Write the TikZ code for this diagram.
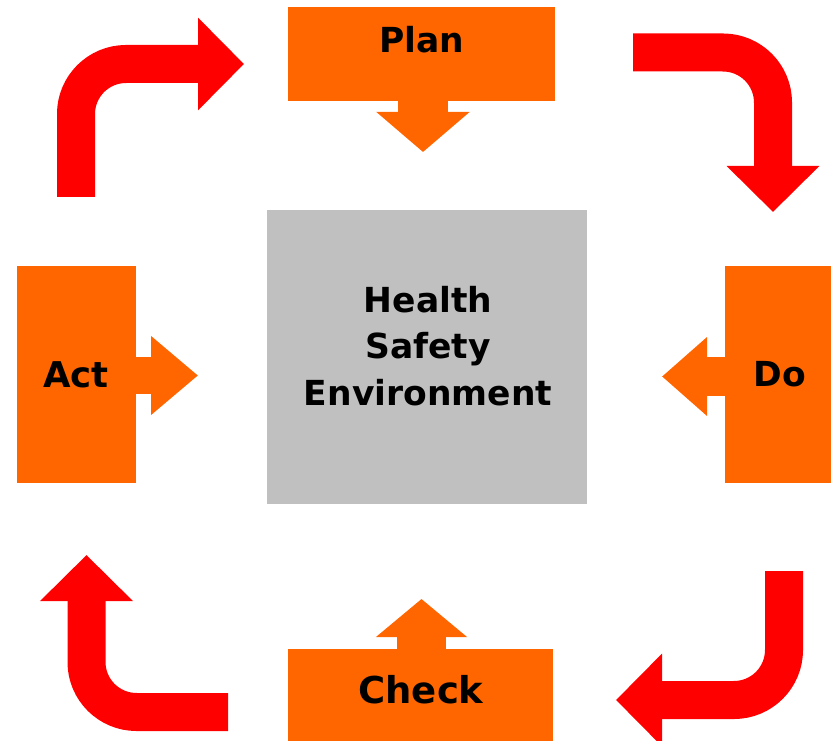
\documentclass[tikz,border=0pt]{standalone}
\usepackage{fontspec}
\setmainfont{DejaVu Sans}
\usetikzlibrary{arrows.meta}
\definecolor{stageorange}{HTML}{FF6600}
\definecolor{cyclered}{HTML}{FF0000}
\definecolor{coregray}{HTML}{C0C0C0}
\begin{document}
\begin{tikzpicture}[x=1pt,y=-1pt,
  stagebox/.style={fill=stageorange, draw=none, inner sep=0pt},
  corebox/.style={fill=coregray, draw=none, inner sep=0pt},
  lbl/.style={font=\fontsize{34.5}{40}\selectfont\bfseries, text=black, inner sep=0pt},
  cyclearrow/.style={draw=cyclered, line width=38pt, rounded corners=50pt,
    -{Triangle[length=46pt,width=90pt]}},
  feedarrow/.style={draw=stageorange}
]
\useasboundingbox (0,0) rectangle (831,741);
\fill[white] (0,0) rectangle (831,741);

% stage boxes
\node[stagebox, minimum width=267pt, minimum height=94pt] (plan) at (421.5,54) {};
\node[stagebox, minimum width=106pt, minimum height=217pt] (do) at (778,374.5) {};
\node[stagebox, minimum width=265pt, minimum height=92pt] (check) at (420.5,695) {};
\node[stagebox, minimum width=119pt, minimum height=217pt] (act) at (76.5,374.5) {};
\node[corebox, minimum width=320pt, minimum height=294pt] (hse) at (427,357) {};

% feed arrows toward the centre
\coordinate (planTip) at (423,152);
\coordinate (doTip) at (662,376.5);
\coordinate (checkTip) at (421.5,599);
\coordinate (actTip) at (198,375.5);
\draw[feedarrow, line width=50pt, -{Triangle[length=40pt,width=91pt]}] (planTip |- plan.center) -- (planTip);
\draw[feedarrow, line width=39pt, -{Triangle[length=45pt,width=76pt]}] (doTip -| do.center) -- (doTip);
\draw[feedarrow, line width=49pt, -{Triangle[length=38pt,width=89pt]}] (checkTip |- check.center) -- (checkTip);
\draw[feedarrow, line width=37pt, -{Triangle[length=47pt,width=76pt]}] (actTip -| act.center) -- (actTip);

% labels
\node[lbl] (plantext) at (422,40) {Plan};
\node[lbl] (dotext) at (780,374) {Do};
\node[lbl, font=\fontsize{37}{40}\selectfont\bfseries] (checktext) at (421,690) {Check};
\node[lbl, font=\fontsize{35.5}{40}\selectfont\bfseries] (acttext) at (76,375) {Act};
\node[lbl, align=center, font=\fontsize{34.5}{46.5}\selectfont\bfseries] (hsetext) at (428,346) {Health\\Safety\\Environment};

% red cycle arrows
\coordinate (actOut) at (76,197);
\coordinate (planIn) at (244,64);
\coordinate (planOut) at (633,52.5);
\coordinate (doIn) at (773,212);
\coordinate (doOut) at (784,571);
\coordinate (checkIn) at (616,700);
\coordinate (checkOut) at (228,712);
\coordinate (actIn) at (86.5,555);
\draw[cyclearrow] (actOut) |- (planIn);
\draw[cyclearrow] (planOut) -| (doIn);
\draw[cyclearrow] (doOut) |- (checkIn);
\draw[cyclearrow] (checkOut) -| (actIn);
\end{tikzpicture}
\end{document}
